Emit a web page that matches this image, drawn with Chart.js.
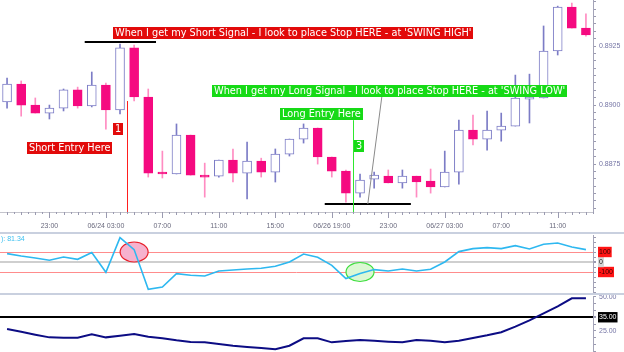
<!DOCTYPE html>
<html>
<head>
<meta charset="utf-8">
<script src="https://cdn.jsdelivr.net/npm/chart.js@4.4.0/dist/chart.umd.min.js"></script>
<style>
  body { margin: 0; background: #fff; }
  #wrap { position: relative; width: 624px; height: 352px; overflow: hidden; background: #fff; }
  canvas { position: absolute; left: 0; }
  .sep { position: absolute; left: 0; width: 624px; height: 2px; background: #c9d0df; }
</style>
</head>
<body>
<div id="wrap">
  <canvas id="priceChart" width="624" height="232" style="top:0"></canvas>
  <canvas id="cciChart" width="624" height="61" style="top:233px"></canvas>
  <canvas id="adxChart" width="624" height="58" style="top:294px"></canvas>
  <div class="sep" style="top:232px"></div>
  <div class="sep" style="top:293px"></div>
</div>
<script>
// hourly bars
const times = [
  '20:00', '21:00', '22:00', '23:00', '00:00', '01:00', '02:00', '06/24 03:00',
  '04:00', '05:00', '06:00', '07:00', '08:00', '09:00', '10:00', '11:00',
  '12:00', '13:00', '14:00', '15:00', '16:00', '17:00', '18:00', '06/26 19:00',
  '20:00', '21:00', '22:00', '23:00', '00:00', '01:00', '02:00', '06/27 03:00',
  '04:00', '05:00', '06:00', '07:00', '08:00', '09:00', '10:00', '11:00',
  '12:00', '13:00'
];
const opens = [
  0.89013, 0.89089, 0.89000, 0.88966, 0.88987, 0.89064, 0.88996, 0.89085,
  0.88979, 0.89242, 0.89034, 0.88712, 0.88708, 0.88873, 0.88703, 0.88699,
  0.88767, 0.88712, 0.88763, 0.88716, 0.88792, 0.88856, 0.88903, 0.88780,
  0.88720, 0.88627, 0.88686, 0.88699, 0.88670, 0.88699, 0.88678, 0.88653,
  0.88716, 0.88894, 0.88856, 0.88894, 0.88911, 0.89025, 0.89030, 0.89229,
  0.89415, 0.89326
];
const highs = [
  0.89114, 0.89102, 0.89030, 0.89000, 0.89068, 0.89076, 0.89140, 0.89093,
  0.89258, 0.89254, 0.89068, 0.88805, 0.88920, 0.88873, 0.88754, 0.88767,
  0.88814, 0.88843, 0.88775, 0.88814, 0.88856, 0.88920, 0.88903, 0.88780,
  0.88725, 0.88708, 0.88716, 0.88725, 0.88725, 0.88699, 0.88729, 0.88805,
  0.88936, 0.88958, 0.88975, 0.88966, 0.89127, 0.89131, 0.89335, 0.89419,
  0.89432, 0.89386
];
const lows = [
  0.88987, 0.88953, 0.88966, 0.88941, 0.88975, 0.88987, 0.88992, 0.88898,
  0.88962, 0.89017, 0.88695, 0.88691, 0.88708, 0.88703, 0.88610, 0.88695,
  0.88674, 0.88602, 0.88695, 0.88674, 0.88784, 0.88839, 0.88750, 0.88695,
  0.88589, 0.88610, 0.88648, 0.88670, 0.88648, 0.88610, 0.88627, 0.88653,
  0.88665, 0.88831, 0.88809, 0.88847, 0.88911, 0.88924, 0.89030, 0.89212,
  0.89326, 0.89292
];
const closes = [
  0.89089, 0.89000, 0.88966, 0.88987, 0.89064, 0.88996, 0.89085, 0.88979,
  0.89242, 0.89034, 0.88712, 0.88708, 0.88873, 0.88703, 0.88695, 0.88767,
  0.88712, 0.88763, 0.88716, 0.88792, 0.88856, 0.88903, 0.88780, 0.88720,
  0.88627, 0.88682, 0.88703, 0.88670, 0.88699, 0.88674, 0.88653, 0.88716,
  0.88894, 0.88856, 0.88894, 0.88911, 0.89030, 0.89034, 0.89229, 0.89415,
  0.89326, 0.89297
];
const cciValues = [
  84, 60, 40, 17, 50, 27, 94, -103, 244, 124, -273, -250, -116, -133, -140, -90,
  -80, -70, -63, -43, 0, 80, 47, -33, -166, -116, -76, -90, -70, -90, -73, 0,
  104, 134, 144, 134, 164, 130, 177, 190, 150, 124
];
const adxValues = [
  26.3, 24.3, 22.1, 20.1, 19.9, 19.9, 22.4, 20.1, 21.3, 22.6, 20.6, 19.4, 17.9, 16.7,
  16.4, 15.2, 13.9, 13.0, 12.2, 11.3, 13.9, 19.4, 19.4, 16.4, 17.4, 18.1, 17.6, 16.9,
  16.4, 18.1, 17.6, 16.4, 17.6, 19.6, 21.6, 23.9, 28.0, 32.7, 37.9, 43.1, 49.0, 49.0
];
const cciLevels = [100, 0, -100];
const adxLevels = [50, 35, 25];
const cciReadout = '): 81.34';

const UP = '#7c7cc6';
const DOWN = '#f50a80';
const DOWN_WICK = '#ff8cc2';
const RED = '#e20a0a';
const GREEN = '#16da16';
const axisFont = { family: 'Liberation Sans', size: 7 };

const isUp = i => closes[i] >= opens[i];

// text boxes placed in data space (bar index, price)
const notes = [
  { text: "When I get my Short Signal - I look to place Stop HERE - at 'SWING HIGH'", at: 7.5, price: 0.89307, side: 'left', bg: RED },
  { text: '1', at: 7.5, price: 0.88900, side: 'left', bg: RED },
  { text: 'Short Entry Here', at: 7.43, price: 0.88818, side: 'right', bg: RED },
  { text: "When I get my Long Signal - I look to place Stop HERE - at 'SWING LOW'", at: 14.53, price: 0.89061, side: 'left', bg: GREEN },
  { text: 'Long Entry Here', at: 25.2, price: 0.88960, side: 'right', bg: GREEN },
  { text: '3', at: 24.55, price: 0.88826, side: 'left', bg: GREEN }
];

const notesPlugin = {
  id: 'notes',
  afterDatasetsDraw(chart) {
    const { ctx, chartArea, scales: { x, y } } = chart;
    const px = v => x.getPixelForValue(v);
    const py = v => y.getPixelForValue(v);
    ctx.save();
    // swing high / swing low
    ctx.strokeStyle = '#000';
    ctx.lineWidth = 2;
    ctx.beginPath();
    ctx.moveTo(px(5.5), py(0.89267)); ctx.lineTo(px(10.55), py(0.89267));
    ctx.moveTo(px(22.5), py(0.88581)); ctx.lineTo(px(28.6), py(0.88581));
    ctx.stroke();
    // entry lines
    ctx.lineWidth = 1;
    ctx.strokeStyle = '#ff1e1e';
    ctx.beginPath();
    ctx.moveTo(Math.round(px(8.5)) + 0.5, py(0.89017));
    ctx.lineTo(Math.round(px(8.5)) + 0.5, chartArea.bottom);
    ctx.stroke();
    ctx.strokeStyle = '#2ee82e';
    ctx.beginPath();
    ctx.moveTo(Math.round(px(24.5)) + 0.5, py(0.88936));
    ctx.lineTo(Math.round(px(24.5)) + 0.5, chartArea.bottom);
    ctx.stroke();
    // pointer to the swing low
    ctx.strokeStyle = '#8a8a8a';
    ctx.beginPath();
    ctx.moveTo(px(26.55), py(0.89038));
    ctx.lineTo(px(25.55), py(0.88581));
    ctx.stroke();
    // labels
    ctx.font = '9.75px "DejaVu Sans"';
    ctx.textBaseline = 'middle';
    notes.forEach(n => {
      const w = Math.round(ctx.measureText(n.text).width + 4);
      const cy = Math.round(py(n.price));
      let left = Math.round(px(n.at));
      if (n.side === 'right') left -= w;
      ctx.fillStyle = n.bg;
      ctx.fillRect(left, cy - 6, w, 12);
      ctx.fillStyle = '#fff';
      ctx.fillText(n.text, left + 2, cy + 0.5);
    });
    ctx.restore();
  },
  afterDraw(chart) {
    // hour / half hour tick marks under the price panel
    const { ctx, chartArea, scales: { x } } = chart;
    const step = x.getPixelForValue(1) - x.getPixelForValue(0);
    ctx.save();
    ctx.strokeStyle = '#9a9ab0';
    ctx.lineWidth = 1;
    ctx.beginPath();
    for (let i = 0; i < times.length; i++) {
      const cx = Math.round(x.getPixelForValue(i)) + 0.5;
      const len = i % 4 === 3 ? 6 : 3;
      ctx.moveTo(cx, chartArea.bottom); ctx.lineTo(cx, chartArea.bottom + len);
      const hx = Math.round(x.getPixelForValue(i) + step / 2) + 0.5;
      ctx.moveTo(hx, chartArea.bottom); ctx.lineTo(hx, chartArea.bottom + 2);
    }
    ctx.stroke();
    ctx.restore();
  }
};

const fixRight = s => { s.width = 31; s.paddingTop = 0; s.paddingBottom = 0; };

new Chart(document.getElementById('priceChart'), {
  type: 'bar',
  data: {
    labels: times,
    datasets: [
      {
        data: opens.map((o, i) => [o, closes[i]]),
        grouped: false,
        barThickness: 9,
        minBarLength: 2,
        borderWidth: 1,
        borderSkipped: false,
        backgroundColor: opens.map((o, i) => isUp(i) ? '#ffffff' : DOWN),
        borderColor: opens.map((o, i) => isUp(i) ? UP : DOWN)
      },
      {
        data: lows.map((l, i) => [l, highs[i]]),
        grouped: false,
        barThickness: 1,
        borderWidth: 0,
        backgroundColor: lows.map((l, i) => isUp(i) ? UP : DOWN_WICK)
      }
    ]
  },
  options: {
    responsive: false,
    animation: false,
    layout: { padding: 0 },
    plugins: { legend: { display: false }, tooltip: { enabled: false } },
    scales: {
      x: {
        offset: true,
        grid: { display: false, drawTicks: false },
        border: { display: true, color: '#c4c4cc' },
        ticks: {
          autoSkip: false,
          maxRotation: 0,
          padding: 10,
          font: axisFont,
          color: '#6a6a7e',
          callback: (v, i) => (i % 4 === 3 ? times[i] : '')
        },
        afterFit: s => { s.height = 20; s.paddingLeft = 0; s.paddingRight = 0; }
      },
      y: {
        position: 'right',
        min: 0.88547,
        max: 0.89445,
        grid: { drawOnChartArea: false, tickLength: 3, tickColor: '#9a9ab0' },
        border: { display: true, color: '#a4a4b8' },
        ticks: {
          stepSize: 0.0003125,
          includeBounds: false,
          autoSkip: false,
          padding: 3,
          font: axisFont,
          color: '#7474a4',
          callback: v => {
            const k = v / 0.0025;
            return Math.abs(k - Math.round(k)) < 1e-4 ? v.toFixed(4) : '';
          }
        },
        afterFit: fixRight
      }
    }
  },
  plugins: [notesPlugin]
});

const cciPlugin = {
  id: 'cciMarks',
  beforeDatasetsDraw(chart) {
    const { ctx, scales: { x, y } } = chart;
    ctx.save();
    ctx.lineWidth = 1.2;
    ctx.beginPath();
    ctx.ellipse(x.getPixelForValue(9), y.getPixelForValue(100), 14, 10, 0, 0, Math.PI * 2);
    ctx.fillStyle = '#f6b2ce';
    ctx.fill();
    ctx.strokeStyle = '#e8202a';
    ctx.stroke();
    ctx.beginPath();
    ctx.ellipse(x.getPixelForValue(25), y.getPixelForValue(-100), 14, 9.5, 0, 0, Math.PI * 2);
    ctx.fillStyle = '#dcf8d4';
    ctx.fill();
    ctx.strokeStyle = '#3ede3e';
    ctx.stroke();
    ctx.restore();
  },
  afterDraw(chart) {
    const { ctx, chartArea } = chart;
    ctx.save();
    ctx.font = '7px "Liberation Sans"';
    ctx.fillStyle = '#3cc0f0';
    ctx.textBaseline = 'top';
    ctx.fillText(cciReadout, 1, chartArea.top + 1);
    ctx.restore();
  }
};

new Chart(document.getElementById('cciChart'), {
  type: 'line',
  data: {
    labels: times,
    datasets: [{
      data: cciValues,
      borderColor: '#2eb8f0',
      borderWidth: 1.6,
      pointRadius: 0,
      tension: 0
    }]
  },
  options: {
    responsive: false,
    animation: false,
    layout: { padding: { top: 2, bottom: 2 } },
    plugins: { legend: { display: false }, tooltip: { enabled: false } },
    scales: {
      x: { display: false, offset: true },
      y: {
        position: 'right',
        min: -300,
        max: 270,
        grid: {
          color: c => c.tick.value === 0 ? '#cfcfcf' : (Math.abs(c.tick.value) === 100 ? '#ff8c8c' : 'transparent'),
          lineWidth: c => c.tick.value === 0 ? 2 : 1,
          tickLength: 3,
          tickColor: '#9a9ab0'
        },
        border: { display: true, color: '#a4a4b8' },
        ticks: {
          stepSize: 50,
          includeBounds: false,
          autoSkip: false,
          padding: 3,
          font: axisFont,
          showLabelBackdrop: true,
          backdropPadding: 1,
          backdropColor: c => c.tick.value === 0 ? '#d4d4d4' : (Math.abs(c.tick.value) === 100 ? '#ff1414' : 'transparent'),
          color: c => c.tick.value === 0 ? '#222' : '#3a0000',
          callback: v => (cciLevels.includes(v) ? String(v) : '')
        },
        afterFit: fixRight
      }
    }
  },
  plugins: [cciPlugin]
});

new Chart(document.getElementById('adxChart'), {
  type: 'line',
  data: {
    labels: times,
    datasets: [{
      data: adxValues,
      borderColor: '#0c0c84',
      borderWidth: 2,
      pointRadius: 0,
      tension: 0
    }]
  },
  options: {
    responsive: false,
    animation: false,
    layout: { padding: { top: 2, bottom: 0 } },
    plugins: { legend: { display: false }, tooltip: { enabled: false } },
    scales: {
      x: { display: false, offset: true },
      y: {
        position: 'right',
        min: 9.26,
        max: 50.74,
        grid: {
          color: c => c.tick.value === 35 ? '#000000' : 'transparent',
          lineWidth: c => c.tick.value === 35 ? 2 : 1,
          tickLength: 3,
          tickColor: '#9a9ab0'
        },
        border: { display: true, color: '#a4a4b8' },
        ticks: {
          stepSize: 5,
          includeBounds: false,
          autoSkip: false,
          padding: 3,
          font: axisFont,
          showLabelBackdrop: true,
          backdropPadding: 1,
          backdropColor: c => c.tick.value === 35 ? '#000000' : 'transparent',
          color: c => c.tick.value === 35 ? '#ffffff' : '#7474a4',
          callback: v => (adxLevels.includes(v) ? v.toFixed(2) : '')
        },
        afterFit: fixRight
      }
    }
  }
});
</script>
</body>
</html>
